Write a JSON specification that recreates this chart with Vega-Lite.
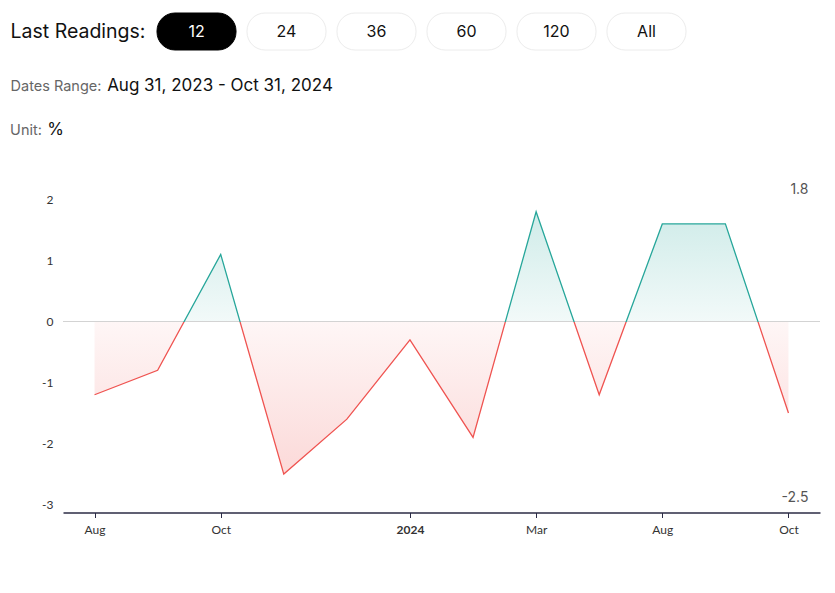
{
  "$schema": "https://vega.github.io/schema/vega-lite/v6.json",
  "padding": {"left": 10, "top": 12, "right": 0, "bottom": 0},
  "background": "#ffffff",
  "config": {"view": {"stroke": null}, "font": "Inter"},
  "datasets": {
    "series": [
      {"date": "2023-08-31", "value": -1.2},
      {"date": "2023-09-30", "value": -0.8},
      {"date": "2023-10-31", "value": 1.1},
      {"date": "2023-11-30", "value": -2.5},
      {"date": "2023-12-31", "value": -1.6},
      {"date": "2024-01-31", "value": -0.3},
      {"date": "2024-02-29", "value": -1.9},
      {"date": "2024-03-31", "value": 1.8},
      {"date": "2024-05-31", "value": -1.2},
      {"date": "2024-08-31", "value": 1.6},
      {"date": "2024-09-30", "value": 1.6},
      {"date": "2024-10-31", "value": -1.5}
    ],
    "buttons": [
      {"label": "12", "selected": true},
      {"label": "24", "selected": false},
      {"label": "36", "selected": false},
      {"label": "60", "selected": false},
      {"label": "120", "selected": false},
      {"label": "All", "selected": false}
    ]
  },
  "concat": [
    {
      "hconcat": [
        {
          "width": 136, "height": 37,
          "data": {"values": [{"t": "Last Readings:"}]},
          "mark": {"type": "text", "fontSize": 19.5, "color": "#111111", "baseline": "middle"},
          "encoding": {"text": {"field": "t"}}
        },
        {
          "width": 529, "height": 37,
          "data": {"name": "buttons"},
          "encoding": {
            "x": {"field": "label", "type": "nominal", "sort": null,
                  "scale": {"type": "band", "paddingInner": 0.122, "paddingOuter": 0}, "axis": null}
          },
          "layer": [
            {
              "mark": {"type": "rect", "cornerRadius": 18, "strokeWidth": 1},
              "encoding": {
                "fill": {"condition": {"test": "datum.selected", "value": "#000000"}, "value": "#ffffff"},
                "stroke": {"condition": {"test": "datum.selected", "value": "#000000"}, "value": "#ececec"}
              }
            },
            {
              "mark": {"type": "text", "fontSize": 16, "baseline": "middle"},
              "encoding": {
                "text": {"field": "label"},
                "color": {"condition": {"test": "datum.selected", "value": "#ffffff"}, "value": "#111111"}
              }
            }
          ]
        }
      ],
      "spacing": 10
    },
    {
      "hconcat": [
        {
          "width": 92, "height": 70,
          "data": {"values": [{"t": "Dates Range:"}]},
          "mark": {"type": "text", "fontSize": 14.5, "color": "#666666", "baseline": "middle", "dy": 1},
          "encoding": {"text": {"field": "t"}}
        },
        {
          "width": 224, "height": 70,
          "data": {"values": [{"t": "Aug 31, 2023 - Oct 31, 2024"}]},
          "mark": {"type": "text", "fontSize": 17, "color": "#111111", "baseline": "middle"},
          "encoding": {"text": {"field": "t"}}
        }
      ],
      "spacing": 5
    },
    {
      "hconcat": [
        {
          "width": 32, "height": 48,
          "data": {"values": [{"t": "Unit:"}]},
          "mark": {"type": "text", "fontSize": 14.5, "color": "#666666", "baseline": "middle", "dy": -14},
          "encoding": {"text": {"field": "t"}}
        },
        {
          "width": 13, "height": 48,
          "data": {"values": [{"t": "%"}]},
          "mark": {"type": "text", "fontSize": 17, "color": "#111111", "baseline": "middle", "dy": -15},
          "encoding": {"text": {"field": "t"}}
        }
      ],
      "spacing": 5
    },
    {
      "hconcat": [
        {
          "width": 1, "height": 1,
          "data": {"values": []},
          "mark": "point"
        },
        {
          "width": 757,
          "height": 343.5,
          "data": {"name": "series"},
          "encoding": {
            "x": {
              "field": "date", "type": "ordinal", "sort": null,
              "scale": {"type": "point", "padding": 0.5},
              "axis": {
                "title": null,
                "values": ["2023-08-31", "2023-10-31", "2024-01-31", "2024-03-31", "2024-08-31", "2024-10-31"],
                "labelExpr": "utcmonth(toDate(datum.value)) == 0 ? utcFormat(toDate(datum.value), '%Y') : utcFormat(toDate(datum.value), '%b')",
                "labelFontWeight": {"condition": {"test": "utcmonth(toDate(datum.value)) == 0", "value": "bold"}, "value": "normal"},
                "labelAngle": 0,
                "labelFont": "Lato",
                "labelFontSize": 12,
                "labelColor": "#333333",
                "labelPadding": 7,
                "domainColor": "#2b2b45",
                "domainWidth": 1.5,
                "tickColor": "#2b2b45",
                "tickSize": 5,
                "tickWidth": 1,
                "grid": false
              }
            }
          },
          "layer": [
            {
              "mark": {
                "type": "area",
                "fill": {
                  "gradient": "linear", "x1": 0, "y1": 0, "x2": 0, "y2": 1,
                  "stops": [
                    {"offset": 0, "color": "rgba(38,166,154,0.22)"},
                    {"offset": 0.4186, "color": "rgba(38,166,154,0.06)"},
                    {"offset": 0.4186, "color": "rgba(239,83,80,0.05)"},
                    {"offset": 1, "color": "rgba(239,83,80,0.22)"}
                  ]
                }
              },
              "encoding": {
                "y": {
                  "field": "value", "type": "quantitative",
                  "scale": {"domain": [-3.13, 2.5], "nice": false, "zero": false},
                  "axis": {
                    "title": null,
                    "values": [-3, -2, -1, 0, 1, 2],
                    "labelExpr": "'' + datum.value",
                    "grid": false, "domain": false, "ticks": false,
                    "labelFont": "Lato", "labelFontSize": 12, "labelColor": "#333333",
                    "labelPadding": 10, "minExtent": 52
                  }
                },
                "y2": {"datum": 0}
              }
            },
            {
              "mark": {"type": "rule", "color": "#d3d3d3", "strokeWidth": 1},
              "encoding": {"y": {"datum": 0, "type": "quantitative"}, "x": null}
            },
            {
              "mark": {
                "type": "line", "strokeWidth": 1.3,
                "stroke": {
                  "gradient": "linear", "x1": 0, "y1": 0, "x2": 0, "y2": 1,
                  "stops": [
                    {"offset": 0, "color": "#26a69a"},
                    {"offset": 0.4186, "color": "#26a69a"},
                    {"offset": 0.4186, "color": "#ef5350"},
                    {"offset": 1, "color": "#ef5350"}
                  ]
                }
              },
              "encoding": {"y": {"field": "value", "type": "quantitative"}}
            },
            {
              "transform": [{"aggregate": [{"op": "max", "field": "value", "as": "vmax"}]}],
              "mark": {"type": "text", "align": "right", "baseline": "middle", "dx": 20, "fontSize": 14, "color": "#555555"},
              "encoding": {
                "x": {"datum": "2024-10-31"},
                "y": {"datum": 2.15},
                "text": {"field": "vmax", "type": "nominal"}
              }
            },
            {
              "transform": [{"aggregate": [{"op": "min", "field": "value", "as": "vmin"}]}],
              "mark": {"type": "text", "align": "right", "baseline": "middle", "dx": 20, "fontSize": 14, "color": "#555555"},
              "encoding": {
                "x": {"datum": "2024-10-31"},
                "y": {"datum": -2.89},
                "text": {"field": "vmin", "type": "nominal"}
              }
            }
          ]
        }
      ],
      "spacing": 0
    }
  ],
  "columns": 1,
  "spacing": 0
}
